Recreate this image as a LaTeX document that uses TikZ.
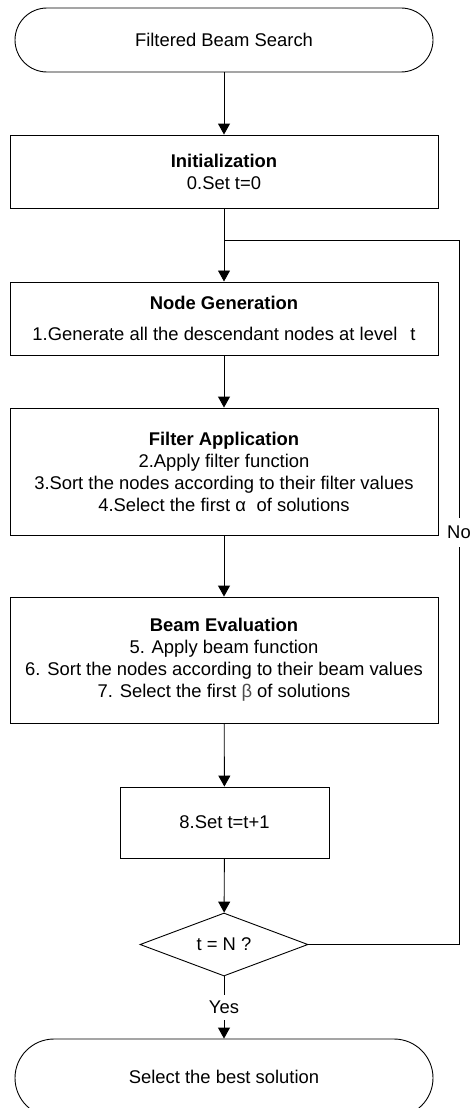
\documentclass[tikz,border=0pt]{standalone}
\usepackage{fontspec}
\setmainfont{Liberation Sans}
\usetikzlibrary{arrows.meta,shapes.geometric}
\begin{document}
\begin{tikzpicture}[x=1pt,y=-1pt,
  line width=0.9pt,
  every node/.style={font=\fontsize{18.4}{22}\selectfont, align=center, inner sep=0pt},
  box/.style={draw, rectangle, minimum width=428pt},
  term/.style={draw, rectangle, rounded corners=32pt, minimum width=418pt},
  dec/.style={draw, diamond, minimum width=168pt, minimum height=63pt, aspect=2.67},
  arr/.style={-{Triangle[width=12pt,length=11pt]}},
  lbl/.style={fill=white, inner xsep=1pt}]
\useasboundingbox (0,0) rectangle (469,1108);
\clip (0,0) rectangle (469,1108);

\node[term, minimum height=64pt] (start) at (224,40) {Filtered Beam Search};
\node[box, minimum height=73pt] (init) at (224,171.5) {\textbf{Initialization}\\0.Set t=0};
\node[box, minimum height=73.5pt] (ng) at (224,318.7) {\textbf{Node Generation}\\[9pt]1.Generate all the descendant nodes at level\hspace{0.7em}t};
\node[box, minimum height=127pt] (fa) at (224,471.5) {\textbf{Filter Application}\\2.Apply filter function\\3.Sort the nodes according to their filter values\\4.Select the first α\hspace{0.3em} of solutions};
\node[box, minimum height=126pt] (be) at (224,660) {\textbf{Beam Evaluation}\\5. Apply beam function\\6. Sort the nodes according to their beam values\\7. Select the first {\color{black!70}β} of solutions};
\node[draw, rectangle, minimum width=209pt, minimum height=71pt] (inc) at (224.5,822.5) {8.Set t=t+1};
\node[dec] (dia) at (224,944.5) {t = N ?};
\node[term, rounded corners=39pt, minimum height=78pt] (endn) at (224,1078) {\raisebox{1.5pt}{Select the best solution}};

\coordinate (join) at (224,240);
\coordinate (ne) at (459,944.5);
\coordinate (nw) at (459,240);

\draw[arr] (start) -- (init);
\draw[arr] (init) -- (ng);
\draw[arr] (ng) -- (fa);
\draw[arr] (fa) -- (be);
\draw[arr] (be) -- (inc);
\draw[arr] (inc) -- (dia);
\draw[arr] (dia.south) -- node[lbl, minimum height=25pt] {Yes} (endn.north);
\draw (dia.east) -- (ne) -- node[lbl, pos=0.585, minimum height=29pt] {No} (nw) -- (join);
\end{tikzpicture}
\end{document}
